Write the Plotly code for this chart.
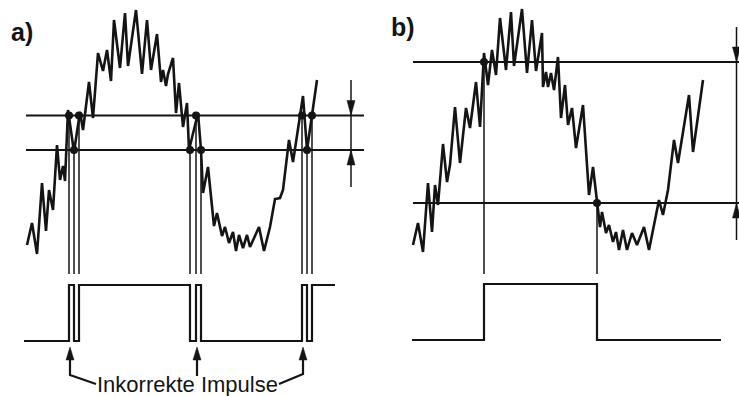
import plotly.graph_objects as go

# ---------------- data (image units: x to the right, y downward) ----------------
# Panel a) noisy input signal
a_sig_x = [27, 32, 37, 42, 46, 49, 53, 57, 60, 63, 65, 68, 74, 80, 83, 89, 93, 98, 103, 107,
           111, 114, 120, 125, 128, 136, 142, 147, 151, 157, 161, 163, 166, 168, 173, 176, 179,
           183, 187, 189, 198, 201, 203, 208, 214, 217, 222, 225, 229, 233, 236, 239, 243, 247,
           250, 254, 259, 264, 270, 275, 280, 283, 289, 293, 303, 307, 312, 317]
a_sig_y = [245, 223, 254, 183, 231, 190, 210, 145, 180, 166, 181, 110, 152, 112, 130, 82, 118, 53, 71, 50,
           81, 20, 68, 13, 66, 10, 74, 20, 70, 34, 82, 70, 86, 74, 58, 113, 83,
           127, 103, 150, 113, 150, 193, 167, 226, 213, 236, 227, 243, 232, 251, 235, 248, 235,
           247, 238, 227, 251, 227, 199, 198, 190, 140, 162, 96, 150, 113, 80]
a_thresholds = [115.5, 150]          # upper, lower switching threshold
a_thr_span = [26, 364]
a_switch_x = [69, 74, 79, 190, 196, 201, 302, 307, 312]
a_switch_thr = [0, 1, 0, 1, 0, 1, 0, 1, 0]   # which threshold each crossing hits
a_out_x = [24, 69, 74, 79, 190, 196, 201, 302, 307, 312, 335]
a_out_state = [0, 1, 0, 1, 0, 1, 0, 1, 0, 1, 1]
a_bad_pulse_x = [70, 197, 303]

# Panel b) same signal with hysteresis
b_sig_x = [413, 418, 423, 428, 432, 435, 438, 443, 447, 450, 455, 460, 466, 470, 476, 480, 484, 488,
           492, 496, 500, 506, 511, 514, 522, 527, 532, 536, 542, 543, 546, 548, 551, 554, 558, 561,
           565, 568, 572, 576, 583, 589, 593, 597, 600, 602, 606, 609, 613, 616, 619, 623, 627, 632,
           637, 644, 649, 659, 663, 668, 674, 678, 689, 693, 703]
b_sig_y = [245, 223, 252, 183, 232, 185, 205, 144, 182, 165, 107, 163, 108, 128, 82, 127, 53, 85,
           50, 75, 18, 70, 12, 66, 9, 73, 20, 71, 33, 87, 72, 87, 73, 90, 57, 118,
           85, 125, 108, 148, 105, 195, 167, 203, 227, 212, 233, 225, 242, 232, 250, 230, 250, 233,
           245, 227, 250, 200, 215, 190, 140, 163, 95, 152, 80]
b_thresholds = [62, 203]
b_thr_span = [413, 739]
b_switch_x = [484, 597]
b_switch_thr = [0, 1]
b_out_x = [412, 484, 597, 721]
b_out_state = [0, 1, 0, 0]

out_levels = [341, 285]        # low, high output level
b_out_levels = [340, 284]
proj_bottom = 274

INK = "#141414"

fig = go.Figure()


def line(xs, ys, w=1.5, shape="linear"):
    fig.add_trace(go.Scatter(x=xs, y=ys, mode="lines", line=dict(color=INK, width=w, shape=shape),
                             hoverinfo="skip"))


def arrowhead(tx, ty, down=True, length=15, width=8):
    by = ty - length if down else ty + length
    fig.add_trace(go.Scatter(x=[tx - width / 2, tx + width / 2, tx, tx - width / 2],
                             y=[by, by, ty, by], mode="lines", fill="toself",
                             fillcolor=INK, line=dict(color=INK, width=0.5), hoverinfo="skip"))


# ---------- panel a ----------
for t in a_thresholds:
    line(a_thr_span, [t, t], 2.0)
for x, k in zip(a_switch_x, a_switch_thr):
    line([x, x], [a_thresholds[k], proj_bottom], 1.5)
line(a_sig_x, a_sig_y, 2.6)
fig.add_trace(go.Scatter(x=a_switch_x, y=[a_thresholds[k] for k in a_switch_thr], mode="markers",
                         marker=dict(color=INK, size=8), hoverinfo="skip"))
line(a_out_x, [out_levels[s] for s in a_out_state], 2.2, "hv")

# hysteresis marker arrows a
line([351, 351], [80, 187], 1.5)
arrowhead(351, a_thresholds[0], down=True)
arrowhead(351, a_thresholds[1], down=False)

# arrows to the wrong pulses
tip_y = 347
line([a_bad_pulse_x[0], a_bad_pulse_x[0], 96], [tip_y + 5, 375, 384], 2.2)
line([a_bad_pulse_x[1], a_bad_pulse_x[1]], [tip_y + 5, 376], 2.2)
line([a_bad_pulse_x[2], a_bad_pulse_x[2], 279], [tip_y + 5, 374, 384], 2.2)
for x in a_bad_pulse_x:
    arrowhead(x, tip_y, down=False, length=13, width=8)

# ---------- panel b ----------
for t in b_thresholds:
    line(b_thr_span, [t, t], 2.0)
for x, k in zip(b_switch_x, b_switch_thr):
    line([x, x], [b_thresholds[k], proj_bottom], 1.5)
line(b_sig_x, b_sig_y, 2.6)
fig.add_trace(go.Scatter(x=b_switch_x, y=[b_thresholds[k] for k in b_switch_thr], mode="markers",
                         marker=dict(color=INK, size=8), hoverinfo="skip"))
line(b_out_x, [b_out_levels[s] for s in b_out_state], 2.2, "hv")

line([736.5, 736.5], [27, 240], 1.5)
arrowhead(736.5, b_thresholds[0], down=True)
arrowhead(736.5, b_thresholds[1], down=False)

# ---------- texts ----------
fig.add_annotation(x=22, y=32, text="<b>a)</b>", showarrow=False,
                   font=dict(family="Liberation Sans, Arial, sans-serif", size=25, color=INK))
fig.add_annotation(x=403, y=27, text="<b>b)</b>", showarrow=False,
                   font=dict(family="Liberation Sans, Arial, sans-serif", size=25, color=INK))
fig.add_annotation(x=187, y=384, text="Inkorrekte Impulse", showarrow=False,
                   font=dict(family="Liberation Sans, Arial, sans-serif", size=22, color=INK))

fig.update_layout(
    width=739, height=396, margin=dict(l=0, r=0, t=0, b=0),
    paper_bgcolor="white", plot_bgcolor="white", showlegend=False,
    xaxis=dict(range=[0, 739], visible=False, fixedrange=True),
    yaxis=dict(range=[396, 0], visible=False, fixedrange=True),
)

fig.write_html("out.html", config={"displayModeBar": False},
               post_script="document.body.style.margin='0';document.body.style.overflow='hidden';")
